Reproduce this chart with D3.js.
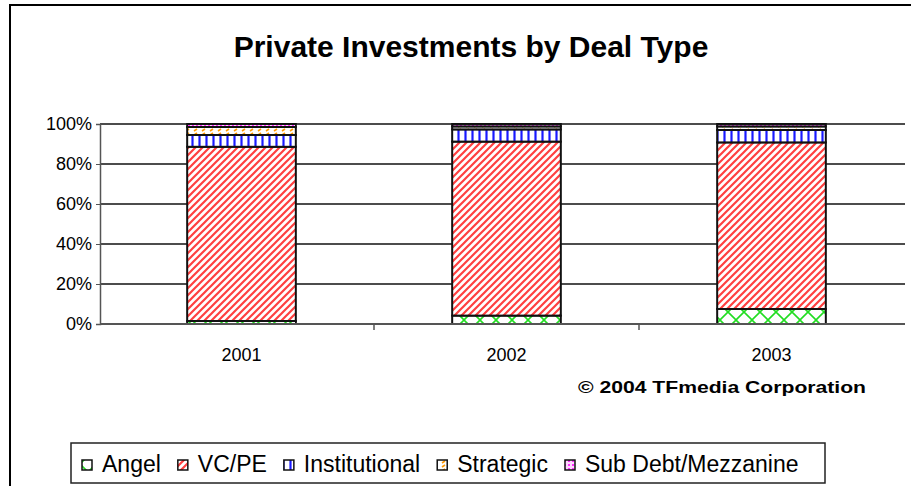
<!DOCTYPE html>
<html>
<head>
<meta charset="utf-8">
<script src="https://cdn.jsdelivr.net/npm/d3@7"></script>
<style>
  body { margin: 0; background: #fff; }
  text { font-family: "Liberation Sans", Arial, sans-serif; fill: #000; }
</style>
</head>
<body>
<script>
// chart data (percent of deals per year)
const years = ['2001', '2002', '2003'];
const seriesNames = ['Angel', 'VC/PE', 'Institutional', 'Strategic', 'Sub Debt/Mezzanine'];
const angel = [1.5, 4.2, 7.5];
const vcpe = [87.1, 87.0, 83.3];
const institutional = [5.9, 6.1, 6.2];
const strategic = [4.0, 1.5, 1.8];
const subDebt = [1.5, 1.2, 1.2];
const yTicks = [0, 20, 40, 60, 80, 100];

const W = 911, H = 486;

const rows = years.map((y, i) => ({
    year: y,
    'Angel': angel[i],
    'VC/PE': vcpe[i],
    'Institutional': institutional[i],
    'Strategic': strategic[i],
    'Sub Debt/Mezzanine': subDebt[i]
}));

const svg = d3.select('body')
    .append('svg')
    .attr('width', W)
    .attr('height', H);

// fill patterns
const defs = svg.append('defs');

const pAngel = defs.append('pattern').attr('id', 'p-angel')
    .attr('patternUnits', 'userSpaceOnUse').attr('width', 16).attr('height', 16);
pAngel.append('rect').attr('width', 16).attr('height', 16).attr('fill', '#fff');
pAngel.append('path').attr('d', 'M0,0L16,16M16,0L0,16')
    .attr('stroke', '#22dd22').attr('stroke-width', 1.6);

const pVc = defs.append('pattern').attr('id', 'p-vc')
    .attr('patternUnits', 'userSpaceOnUse').attr('width', 7).attr('height', 7);
pVc.append('rect').attr('width', 7).attr('height', 7).attr('fill', '#fff');
pVc.append('path').attr('d', 'M-1,1L1,-1M0,7L7,0M6,8L8,6')
    .attr('stroke', '#ff4040').attr('stroke-width', 2.2);

const pInst = defs.append('pattern').attr('id', 'p-inst')
    .attr('patternUnits', 'userSpaceOnUse').attr('width', 7).attr('height', 7);
pInst.append('rect').attr('width', 7).attr('height', 7).attr('fill', '#fff');
pInst.append('path').attr('d', 'M3.5,0V7')
    .attr('stroke', '#1a1aff').attr('stroke-width', 2.2);

const pStrat = defs.append('pattern').attr('id', 'p-strat')
    .attr('patternUnits', 'userSpaceOnUse').attr('width', 8).attr('height', 4);
pStrat.append('rect').attr('width', 8).attr('height', 4).attr('fill', '#fff');
pStrat.append('path').attr('d', 'M2,3L5,1')
    .attr('stroke', '#ff9900').attr('stroke-width', 1.6);

const pSub = defs.append('pattern').attr('id', 'p-sub')
    .attr('patternUnits', 'userSpaceOnUse').attr('width', 4).attr('height', 4);
pSub.append('rect').attr('width', 4).attr('height', 4).attr('fill', '#ffd6ff');
pSub.append('rect').attr('width', 2).attr('height', 2).attr('fill', '#ff33ff');

const fills = {
    'Angel': 'url(#p-angel)',
    'VC/PE': 'url(#p-vc)',
    'Institutional': 'url(#p-inst)',
    'Strategic': 'url(#p-strat)',
    'Sub Debt/Mezzanine': 'url(#p-sub)'
};

// outer frame
svg.append('rect')
    .attr('x', 10).attr('y', 5)
    .attr('width', 1000).attr('height', 1000)
    .attr('fill', '#fff')
    .attr('stroke', '#000').attr('stroke-width', 2);

// title
svg.append('text')
    .attr('x', 471).attr('y', 57)
    .attr('text-anchor', 'middle')
    .style('font-size', '30px').style('font-weight', 'bold')
    .text('Private Investments by Deal Type');

// scales
const xScale = d3.scaleBand()
    .domain(years)
    .range([109, 904])
    .paddingInner(0.59)
    .paddingOuter(0.295);

const yScale = d3.scaleLinear()
    .domain([0, 100])
    .range([324, 124]);

// gridlines
svg.append('g')
    .selectAll('line')
    .data(yTicks.filter(d => d > 0))
    .join('line')
    .attr('x1', 100).attr('x2', 905)
    .attr('y1', d => yScale(d)).attr('y2', d => yScale(d))
    .attr('stroke', '#111').attr('stroke-width', 1.6);

// y axis
const yAxis = d3.axisLeft(yScale)
    .tickValues(yTicks)
    .tickFormat(d => d + '%')
    .tickSize(4)
    .tickPadding(4);

const gy = svg.append('g')
    .attr('transform', 'translate(100,0)')
    .call(yAxis);
gy.select('.domain').attr('stroke', '#555').attr('stroke-width', 1.5);
gy.selectAll('.tick line').attr('stroke', '#555');
gy.selectAll('.tick text')
    .style('font-size', '18px')
    .style('font-family', '"Liberation Sans", Arial, sans-serif')
    .attr('fill', '#000');

// stacked bars
const stack = d3.stack().keys(seriesNames);
const layers = stack(rows);

svg.append('g')
    .selectAll('g')
    .data(layers)
    .join('g')
    .attr('fill', d => fills[d.key])
    .selectAll('rect')
    .data(d => d)
    .join('rect')
    .attr('x', d => xScale(d.data.year))
    .attr('y', d => yScale(d[1]))
    .attr('width', xScale.bandwidth())
    .attr('height', d => yScale(d[0]) - yScale(d[1]))
    .attr('stroke', '#111')
    .attr('stroke-width', 2);

// x axis
const xAxis = d3.axisBottom(xScale)
    .tickSize(0)
    .tickPadding(24);

const gx = svg.append('g')
    .attr('transform', 'translate(0,324)')
    .call(xAxis);
gx.select('.domain').remove();
gx.selectAll('.tick text')
    .style('font-size', '18px')
    .style('font-family', '"Liberation Sans", Arial, sans-serif')
    .attr('fill', '#000');

svg.append('line')
    .attr('x1', 100).attr('x2', 905)
    .attr('y1', 324).attr('y2', 324)
    .attr('stroke', '#555').attr('stroke-width', 2);

// category boundary ticks
const step = xScale.step();
svg.append('g')
    .selectAll('line')
    .data(years.slice(1))
    .join('line')
    .attr('x1', d => xScale(d) - step * xScale.paddingInner() / 2)
    .attr('x2', d => xScale(d) - step * xScale.paddingInner() / 2)
    .attr('y1', 324).attr('y2', 330)
    .attr('stroke', '#555').attr('stroke-width', 1.5);

// copyright note
svg.append('text')
    .attr('x', 578).attr('y', 393)
    .attr('textLength', 288)
    .attr('lengthAdjust', 'spacingAndGlyphs')
    .style('font-size', '17px').style('font-weight', 'bold')
    .text('\u00A9 2004 TFmedia Corporation');

// legend
const legend = svg.append('g');
legend.append('rect')
    .attr('x', 71).attr('y', 443)
    .attr('width', 754).attr('height', 40)
    .attr('fill', '#fff')
    .attr('stroke', '#222').attr('stroke-width', 1.5);

let lx = 82;
seriesNames.forEach(name => {
    const item = legend.append('g');
    item.append('rect')
        .attr('x', lx).attr('y', 460)
        .attr('width', 10).attr('height', 10)
        .attr('fill', fills[name])
        .attr('stroke', '#111').attr('stroke-width', 1.5);
    const t = item.append('text')
        .attr('x', lx + 20).attr('y', 472)
        .style('font-size', '23px')
        .text(name);
    lx += 20 + t.node().getComputedTextLength() + 17;
});
</script>
</body>
</html>
